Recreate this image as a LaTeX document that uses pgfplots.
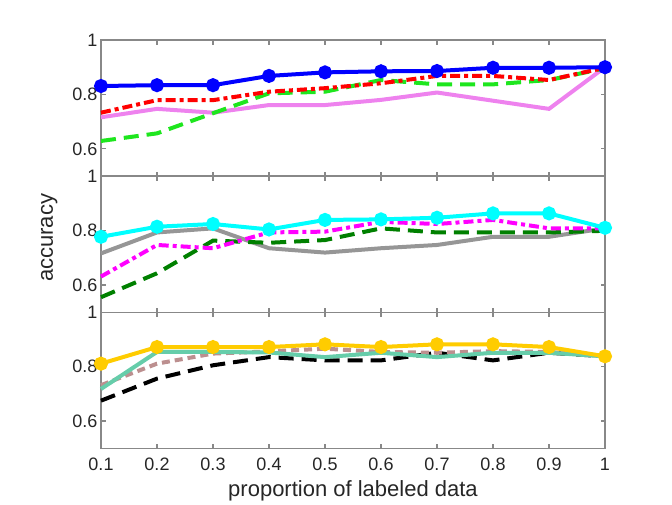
\documentclass[border=0pt]{standalone}
\usepackage{fontspec}
\setmainfont{Liberation Sans}
\usepackage{pgfplots}
\pgfplotsset{compat=1.18}
\definecolor{axgray}{RGB}{136,136,136}
\definecolor{txgray}{RGB}{38,38,38}
\definecolor{mblue}{RGB}{0,0,255}
\definecolor{mred}{RGB}{255,0,0}
\definecolor{mlgreen}{RGB}{30,230,30}
\definecolor{mviolet}{RGB}{238,130,238}
\definecolor{mcyan}{RGB}{0,255,255}
\definecolor{mgray}{RGB}{150,150,150}
\definecolor{mmagenta}{RGB}{255,0,255}
\definecolor{mdgreen}{RGB}{0,128,0}
\definecolor{mgold}{RGB}{255,204,0}
\definecolor{mteal}{RGB}{102,205,170}
\definecolor{mrosy}{RGB}{188,143,143}
\pgfplotsset{
  panel/.style={
    scale only axis, width=504pt, height=136.1pt,
    xmin=0.1, xmax=1, ymin=0.5, ymax=1,
    clip=false,
    axis line style={axgray, line width=1.2pt},
    every tick/.style={axgray, line width=1.2pt},
    major tick length=4.5pt,
    tick align=inside, xtick pos=both, ytick pos=both,
    xtick={0.1,0.2,0.3,0.4,0.5,0.6,0.7,0.8,0.9,1},
    ytick={0.6,0.8,1}, yticklabels={0.6,0.8,1},
    /pgf/number format/assume math mode=true,
    tick label style={font=\fontsize{18}{21}\selectfont, text=txgray},
    xticklabel style={yshift=-6pt},
    every axis plot/.append style={line width=4pt},
  },
  mdash/.style={dash pattern=on 15pt off 8pt},
  mdashdot/.style={dash pattern=on 10pt off 4pt on 4pt off 4pt},
  mk/.style={mark=*, mark size=5pt, mark options={solid, fill=#1, draw=#1}},
}
\begin{document}
\begin{tikzpicture}
\path[use as bounding box] (0,0) rectangle (672pt,504pt);
% top panel
\begin{axis}[panel, at={(101pt,327.9pt)}, anchor=south west, xticklabels={}]
\addplot[mviolet] coordinates {(0.1,0.716) (0.2,0.747) (0.3,0.733) (0.4,0.761) (0.5,0.761) (0.6,0.780) (0.7,0.807) (0.8,0.777) (0.9,0.747) (1,0.900)};
\addplot[mlgreen, mdash] coordinates {(0.1,0.629) (0.2,0.657) (0.3,0.731) (0.4,0.804) (0.5,0.810) (0.6,0.853) (0.7,0.837) (0.8,0.837) (0.9,0.853) (1,0.896)};
\addplot[mred, mdashdot] coordinates {(0.1,0.733) (0.2,0.779) (0.3,0.779) (0.4,0.810) (0.5,0.823) (0.6,0.841) (0.7,0.868) (0.8,0.868) (0.9,0.853) (1,0.898)};
\addplot[mblue, mk=mblue] coordinates {(0.1,0.831) (0.2,0.834) (0.3,0.834) (0.4,0.868) (0.5,0.881) (0.6,0.885) (0.7,0.886) (0.8,0.898) (0.9,0.898) (1,0.900)};
\end{axis}
% middle panel
\begin{axis}[panel, at={(101pt,191.8pt)}, anchor=south west, xticklabels={},
  ylabel={accuracy},
  ylabel style={at={(axis description cs:-0.1028,0.5456)}, anchor=center, rotate=0, font=\fontsize{22}{26}\selectfont, text=txgray}]
\addplot[mgray] coordinates {(0.1,0.716) (0.2,0.793) (0.3,0.808) (0.4,0.735) (0.5,0.719) (0.6,0.735) (0.7,0.747) (0.8,0.777) (0.9,0.777) (1,0.808)};
\addplot[mdgreen, mdash] coordinates {(0.1,0.555) (0.2,0.643) (0.3,0.763) (0.4,0.755) (0.5,0.765) (0.6,0.808) (0.7,0.793) (0.8,0.793) (0.9,0.793) (1,0.799)};
\addplot[mmagenta, mdashdot] coordinates {(0.1,0.631) (0.2,0.747) (0.3,0.735) (0.4,0.793) (0.5,0.796) (0.6,0.832) (0.7,0.824) (0.8,0.839) (0.9,0.808) (1,0.808)};
\addplot[mcyan, mk=mcyan] coordinates {(0.1,0.777) (0.2,0.814) (0.3,0.824) (0.4,0.804) (0.5,0.839) (0.6,0.841) (0.7,0.847) (0.8,0.863) (0.9,0.863) (1,0.810)};
\end{axis}
% bottom panel
\begin{axis}[panel, at={(101pt,55.7pt)}, anchor=south west,
  xticklabels={0.1,0.2,0.3,0.4,0.5,0.6,0.7,0.8,0.9,1},
  xlabel={proportion of labeled data},
  xlabel style={at={(axis description cs:0.5,-0.3556)}, anchor=base, font=\fontsize{22}{26}\selectfont, text=txgray}]
\addplot[black, mdash] coordinates {(0.1,0.675) (0.2,0.756) (0.3,0.805) (0.4,0.835) (0.5,0.823) (0.6,0.823) (0.7,0.851) (0.8,0.823) (0.9,0.851) (1,0.838)};
\addplot[mrosy, dash pattern=on 8pt off 5pt] coordinates {(0.1,0.732) (0.2,0.811) (0.3,0.848) (0.4,0.856) (0.5,0.866) (0.6,0.854) (0.7,0.851) (0.8,0.857) (0.9,0.854) (1,0.838)};
\addplot[mteal] coordinates {(0.1,0.718) (0.2,0.854) (0.3,0.854) (0.4,0.852) (0.5,0.835) (0.6,0.851) (0.7,0.835) (0.8,0.851) (0.9,0.851) (1,0.838)};
\addplot[mgold, mk=mgold] coordinates {(0.1,0.811) (0.2,0.872) (0.3,0.872) (0.4,0.872) (0.5,0.882) (0.6,0.872) (0.7,0.882) (0.8,0.882) (0.9,0.872) (1,0.838)};
\end{axis}
\end{tikzpicture}
\end{document}
